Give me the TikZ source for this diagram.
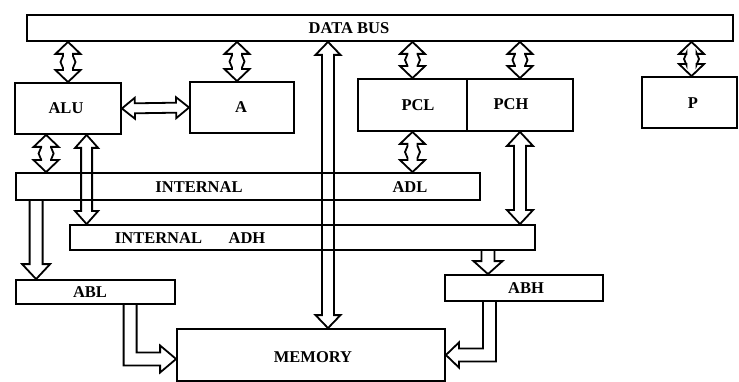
\documentclass[tikz,border=0pt]{standalone}
\usepackage{fontspec}
\setmainfont{Liberation Serif}
\usetikzlibrary{calc}

% Hollow double-headed bus arrow.
% #1 start, #2 end, #3 shaft half-width, #4 head half-width, #5 head length, #6 mid bulge
\newcommand\busboth[6]{%
  \draw[fatline] let \p1=(#1), \p2=(#2), \n1={atan2(\y2-\y1,\x2-\x1)} in
    (\p1)
    -- ($(\p1)+(\n1:#5)+({\n1+90}:#4)$)
    -- ($(\p1)+(\n1:#5)+({\n1+90}:#3)$)
    -- ($(\p1)!.5!(\p2)+({\n1+180}:6pt)+({\n1+90}:#3)$)
    -- ($(\p1)!.5!(\p2)+({\n1+90}:#3+#6)$)
    -- ($(\p1)!.5!(\p2)+(\n1:6pt)+({\n1+90}:#3)$)
    -- ($(\p2)+({\n1+180}:#5)+({\n1+90}:#3)$)
    -- ($(\p2)+({\n1+180}:#5)+({\n1+90}:#4)$)
    -- (\p2)
    -- ($(\p2)+({\n1+180}:#5)+({\n1-90}:#4)$)
    -- ($(\p2)+({\n1+180}:#5)+({\n1-90}:#3)$)
    -- ($(\p1)!.5!(\p2)+(\n1:6pt)+({\n1-90}:#3)$)
    -- ($(\p1)!.5!(\p2)+({\n1-90}:#3+#6)$)
    -- ($(\p1)!.5!(\p2)+({\n1+180}:6pt)+({\n1-90}:#3)$)
    -- ($(\p1)+(\n1:#5)+({\n1-90}:#3)$)
    -- ($(\p1)+(\n1:#5)+({\n1-90}:#4)$)
    -- cycle;}

% Hollow single-headed arrow: #1 start, #2 tip, #3 shaft half-width, #4 head half-width, #5 head length
\newcommand\busone[5]{%
  \draw[fatline] let \p1=(#1), \p2=(#2), \n1={atan2(\y2-\y1,\x2-\x1)} in
    ($(\p1)+({\n1+90}:#3)$)
    -- ($(\p2)+({\n1+180}:#5)+({\n1+90}:#3)$)
    -- ($(\p2)+({\n1+180}:#5)+({\n1+90}:#4)$)
    -- (\p2)
    -- ($(\p2)+({\n1+180}:#5)+({\n1-90}:#4)$)
    -- ($(\p2)+({\n1+180}:#5)+({\n1-90}:#3)$)
    -- ($(\p1)+({\n1-90}:#3)$);}

% Hollow arrow going down from #1, then sideways into the tip #2
% #3 shaft half-width, #4 head half-width, #5 head length
\newcommand\busbend[5]{%
  \draw[fatline] let \p1=(#1), \p2=(#2), \n2={sign(\x2-\x1)} in
    ({\x1-\n2*#3}, \y1)
    -- ({\x1-\n2*#3}, {\y2-#3})
    -- ({\x2-\n2*#5}, {\y2-#3})
    -- ({\x2-\n2*#5}, {\y2-#4})
    -- (\x2, \y2)
    -- ({\x2-\n2*#5}, {\y2+#4})
    -- ({\x2-\n2*#5}, {\y2+#3})
    -- ({\x1+\n2*#3}, {\y2+#3})
    -- ({\x1+\n2*#3}, \y1);}

\tikzset{
  fatline/.style={line width=1.8pt, line join=miter},
  regbox/.style={draw, line width=1.8pt, rectangle, inner sep=0pt},
  lbl/.style={font=\bfseries\fontsize{16.5}{19}\selectfont, inner sep=0pt}
}

\begin{document}
\begin{tikzpicture}[x=1pt, y=-1pt]
\useasboundingbox (0,0) rectangle (739,382);

% registers and buses
\node[regbox, minimum width=706, minimum height=26] (bus) at (380,28) {};
\node[lbl] (busL) at (349,28.5) {DATA BUS};

\node[regbox, minimum width=106, minimum height=51] (alu) at (68,108.5) {};
\node[lbl] (aluL) at (66,108) {ALU};
\node[regbox, minimum width=104, minimum height=51] (areg) at (242,107.5) {};
\node[lbl] (aregL) at (241,107.5) {A};

\node[regbox, minimum width=109, minimum height=52] (pcl) at (412.5,105) {};
\node[lbl] (pclL) at (418,105) {PCL};
\node[regbox, minimum width=106, minimum height=52] (pch) at (520,105) {};
\node[lbl] (pchL) at (511,104) {PCH};

\node[regbox, minimum width=95, minimum height=51] (preg) at (689.5,102.5) {};
\node[lbl] (pregL) at (693,103.5) {P};

\node[regbox, minimum width=464, minimum height=27] (adl) at (248,186.5) {};
\node[lbl] (adlA) at (199,187) {INTERNAL};
\node[lbl] (adlB) at (410,187) {ADL};

\node[regbox, minimum width=465, minimum height=25] (adh) at (302.5,237.5) {};
\node[lbl] (adhA) at (158.5,238) {INTERNAL};
\node[lbl] (adhB) at (247,238) {ADH};

\node[regbox, minimum width=159, minimum height=24] (abl) at (95.5,292) {};
\node[lbl] (ablL) at (90,292.5) {ABL};
\node[regbox, minimum width=158, minimum height=26] (abh) at (524,288) {};
\node[lbl] (abhL) at (526,288.5) {ABH};

\node[regbox, minimum width=268, minimum height=52] (mem) at (311,355) {};
\node[lbl] (memL) at (313,357) {MEMORY};

% data bus transfers
\busboth{alu.north |- bus.south}{alu.north}{5pt}{12.5pt}{12pt}{2.5pt}
\busboth{[xshift=-5pt]areg.north |- bus.south}{[xshift=-5pt]areg.north}{5pt}{12.5pt}{12pt}{2.5pt}
\busboth{pcl.north |- bus.south}{pcl.north}{5pt}{12.5pt}{12pt}{2.5pt}
\busboth{pch.north |- bus.south}{pch.north}{5pt}{12.5pt}{12pt}{2.5pt}
\busboth{[xshift=2pt]preg.north |- bus.south}{[xshift=2pt]preg.north}{5pt}{12.5pt}{12pt}{2.5pt}
\busboth{[xshift=17pt]mem.north |- bus.south}{[xshift=17pt]mem.north}{6pt}{12.5pt}{13pt}{0pt}

% ALU <-> A
\busboth{alu.east}{areg.west}{5pt}{10.5pt}{13pt}{0pt}

% internal address buses
\busboth{[xshift=32pt]alu.south west}{[xshift=32pt]alu.south west |- adl.north}{5pt}{12.5pt}{12pt}{2.5pt}
\busboth{[xshift=72.5pt]alu.south west}{[xshift=72.5pt]alu.south west |- adh.north}{5.5pt}{11.5pt}{13pt}{0pt}
\busboth{pcl.south}{pcl.south |- adl.north}{5pt}{12.5pt}{12pt}{2.5pt}
\busboth{pch.south}{pch.south |- adh.north}{6pt}{13pt}{14pt}{0pt}

% address buffers
\busone{[xshift=21pt]adl.south west}{[xshift=21pt]adl.south west |- abl.north}{6.5pt}{14pt}{15pt}
\busone{[xshift=185.5pt]adh.south}{[xshift=185.5pt]adh.south |- abh.north}{6.5pt}{14.5pt}{13pt}

% address lines into memory
\busbend{[xshift=115pt]abl.south west}{[yshift=-4pt]mem.west}{6.5pt}{13.5pt}{16pt}
\busbend{[xshift=-34.5pt]abh.south}{mem.east}{6.5pt}{12.5pt}{13pt}
\end{tikzpicture}
\end{document}
